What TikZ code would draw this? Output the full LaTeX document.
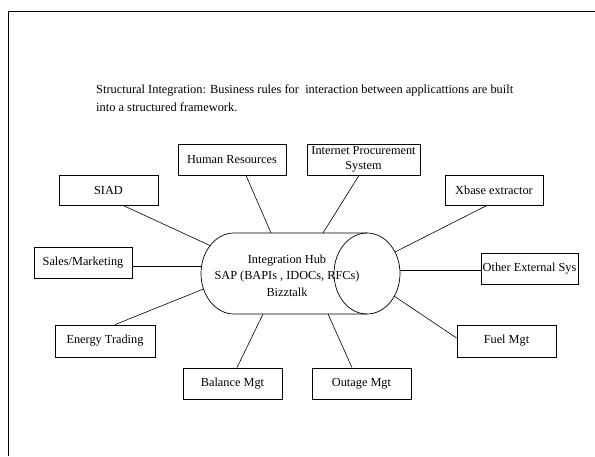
\documentclass[tikz,border=0pt]{standalone}
\usepackage{fontspec}
\setmainfont{Liberation Serif}
\begin{document}
\begin{tikzpicture}[x=1pt,y=-1pt,
  box/.style={draw, line width=0.8pt, inner sep=0pt, align=center, font=\fontsize{12.3}{15}\selectfont},
  conn/.style={line width=0.6pt},
  hubline/.style={line width=0.7pt}]
\useasboundingbox (0,0) rectangle (595,456);
% frame
\draw[line width=1pt] (8,456) -- (8,11) -- (595,11);
% title
\node[anchor=north west, inner sep=0pt, align=left, font=\fontsize{12.4}{18}\selectfont] (title) at (96,84.5)
  {Structural Integration: Business rules for \ interaction between applicattions are built\\into a structured framework.};
% hub cylinder
\draw[hubline] (367,233) -- (234,233) arc[start angle=90, end angle=270, x radius=33pt, y radius=40.5pt] -- (367,314);
\draw[hubline] (367,273.5) ellipse[x radius=33pt, y radius=40.5pt];
\node[align=center, inner sep=0pt, font=\fontsize{12.3}{16.5}\selectfont] (hub) at (287,275.5)
  {Integration Hub\\SAP (BAPIs , IDOCs, RFCs)\\Bizztalk};
% hub attachment points
\coordinate (h-hr) at (271,233);
\coordinate (h-ips) at (323,233);
\coordinate (h-siad) at (211,246);
\coordinate (h-sales) at (201.5,266);
\coordinate (h-energy) at (203.5,289);
\coordinate (h-bal) at (263,314);
\coordinate (h-out) at (328,314);
\coordinate (h-fuel) at (394,296);
\coordinate (h-xb) at (395,252);
\coordinate (h-oth) at (400,270);
% boxes
\node[box, minimum width=108pt, minimum height=31pt] (hr) at (232,159.5) {Human Resources};
\node[box, minimum width=113pt, minimum height=31pt, font=\fontsize{12.3}{14.5}\selectfont] (ips) at (363.5,159.5) {Internet Procurement\\System};
\node[box, minimum width=99pt, minimum height=30pt] (siad) at (108.5,190) {SIAD};
\node[box, minimum width=98pt, minimum height=30pt] (xb) at (494,190) {Xbase extractor};
\node[box, minimum width=98pt, minimum height=31pt] (sales) at (83,262.5) {Sales/Marketing};
\node[box, minimum width=97pt, minimum height=31pt] (oth) at (529.5,268.5) {Other External Sys};
\node[box, minimum width=100pt, minimum height=32pt] (energy) at (105,341) {Energy Trading};
\node[box, minimum width=99pt, minimum height=31pt] (bal) at (232.5,383.5) {Balance Mgt};
\node[box, minimum width=99pt, minimum height=31pt] (out) at (361.5,383.5) {Outage Mgt};
\node[box, minimum width=99pt, minimum height=32pt] (fuel) at (506.5,341) {Fuel Mgt};
% connectors
\draw[conn] ([xshift=14pt]hr.south) -- (h-hr);
\draw[conn] ([xshift=-4.5pt]ips.south) -- (h-ips);
\draw[conn] ([xshift=14.5pt]siad.south) -- (h-siad);
\draw[conn] ([yshift=-3.5pt]sales.east) -- (h-sales);
\draw[conn] ([xshift=10pt]energy.north) -- (h-energy);
\draw[conn] ([xshift=4.5pt]bal.north) -- (h-bal);
\draw[conn] ([xshift=-9.5pt]out.north) -- (h-out);
\draw[conn] ([yshift=3pt]fuel.west) -- (h-fuel);
\draw[conn] ([xshift=-7pt]xb.south) -- (h-xb);
\draw[conn] ([yshift=-1.5pt]oth.west) -- (h-oth);
\end{tikzpicture}
\end{document}
